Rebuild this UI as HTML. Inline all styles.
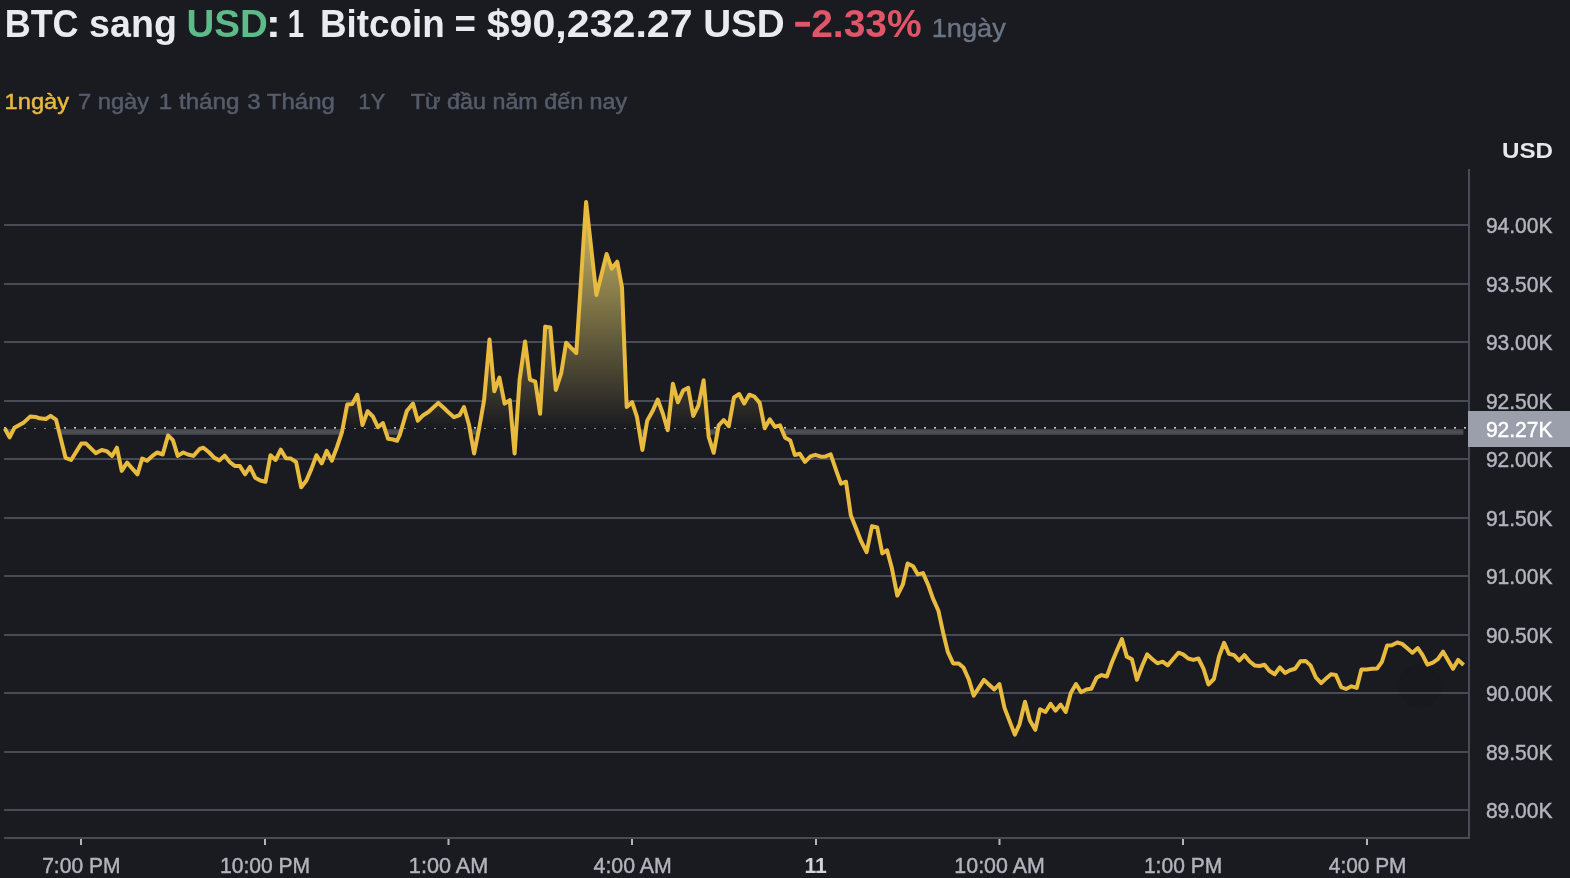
<!DOCTYPE html>
<html><head><meta charset="utf-8"><title>BTC sang USD</title>
<style>
html,body{margin:0;padding:0;background:#1a1b20;}
body{width:1570px;height:878px;overflow:hidden;font-family:"Liberation Sans",sans-serif;}
svg{display:block;position:absolute;left:0;top:0;}
text{font-family:"Liberation Sans",sans-serif;will-change:transform;paint-order:stroke;}
.t{font-size:38.3px;font-weight:bold;}
.w{fill:#eaebef;} .g{fill:#5dbb89;} .r{fill:#e05568;}
.s{font-size:26px;fill:#6c7585;stroke:#6c7585;stroke-width:0.4px;}
.tab{font-size:22px;fill:#555c6b;stroke:#555c6b;stroke-width:0.5px;}
.y{fill:#e8b93e;stroke:#e8b93e;}
.ax{font-size:22.2px;fill:#b2b5be;stroke:#b2b5be;stroke-width:0.45px;}
.b{font-weight:bold;fill:#d1d4dc;stroke:none;}
.usd{font-size:21.3px;font-weight:bold;fill:#e6e7eb;}
.cur{font-size:22.2px;fill:#ffffff;stroke:#ffffff;stroke-width:0.45px;}
</style></head>
<body>
<svg width="1570" height="878" viewBox="0 0 1570 878">
<defs>
<linearGradient id="gb" gradientUnits="userSpaceOnUse" x1="0" y1="429" x2="0" y2="435">
<stop offset="0" stop-color="#3c3d42"/><stop offset="0.45" stop-color="#4f5056"/><stop offset="0.6" stop-color="#4f5056"/><stop offset="1" stop-color="#3a3b40"/>
</linearGradient>
<linearGradient id="gf" gradientUnits="userSpaceOnUse" x1="0" y1="170" x2="0" y2="428.0">
<stop offset="0" stop-color="#ecd670"/>
<stop offset="1" stop-color="#1a1b20"/>
</linearGradient>
<clipPath id="cb"><path d="M4.8,428.5 L9.6,437.4 L14.4,427.8 L23.9,422.4 L30.1,416.6 L35.5,416.9 L39.6,418.3 L45.8,419.0 L50.6,415.8 L56.0,419.6 L65.6,457.9 L71.1,460.0 L81.3,443.6 L86.1,443.6 L95.7,453.1 L101.8,450.0 L106.6,451.1 L112.1,455.9 L116.9,447.7 L121.7,470.9 L127.1,462.7 L137.4,474.3 L142.2,458.6 L147.0,460.7 L152.4,455.9 L157.2,452.5 L162.7,454.5 L168.1,435.4 L172.9,440.2 L177.7,455.9 L183.2,452.5 L188.0,454.5 L193.4,455.9 L199.6,449.0 L203.4,447.7 L209.2,452.5 L214.4,457.9 L219.4,460.4 L224.6,455.6 L229.7,462.0 L234.7,465.9 L239.9,466.1 L245.0,474.3 L250.0,466.8 L255.2,477.7 L260.3,480.5 L265.5,481.8 L270.5,455.2 L275.6,460.0 L280.8,449.7 L285.9,458.2 L290.9,458.6 L296.1,462.0 L301.2,487.3 L306.4,480.5 L311.4,468.9 L316.5,455.2 L321.7,463.4 L326.7,450.8 L331.8,460.7 L337.0,447.0 L342.0,432.0 L347.2,404.6 L352.3,403.9 L357.3,394.8 L362.5,425.1 L367.6,411.2 L372.7,416.2 L377.9,427.2 L382.9,423.1 L388.1,438.8 L393.2,439.5 L397.0,440.8 L400.0,434.3 L406.8,411.1 L413.0,403.6 L417.8,420.7 L423.2,415.2 L428.7,411.8 L438.3,402.9 L443.7,407.7 L449.2,413.1 L454.0,417.2 L459.5,415.2 L464.0,407.0 L469.0,424.8 L474.1,453.5 L479.3,427.5 L484.1,400.2 L489.5,339.5 L494.3,391.3 L499.4,377.6 L504.6,403.6 L509.8,400.2 L514.6,453.5 L519.6,379.6 L525.1,341.4 L529.9,379.6 L535.3,381.7 L540.1,413.8 L545.2,326.6 L550.3,327.5 L555.8,389.9 L561.3,372.8 L566.1,342.7 L571.2,348.0 L576.3,353.0 L586.1,202.0 L596.4,295.0 L606.6,254.0 L611.8,268.6 L617.2,261.7 L622.0,287.4 L626.7,407.0 L632.1,402.2 L636.9,416.6 L642.4,450.0 L647.2,420.7 L652.6,411.1 L657.7,399.5 L662.9,413.8 L667.7,430.2 L672.9,383.7 L677.9,402.2 L683.1,390.6 L688.2,387.8 L693.2,415.9 L698.4,405.6 L703.6,380.3 L708.7,437.0 L713.7,452.8 L718.7,425.4 L723.7,420.0 L728.8,426.1 L734.0,397.4 L739.2,394.0 L744.2,403.6 L749.3,394.7 L754.5,396.7 L759.7,402.9 L764.7,428.2 L769.8,419.3 L775.0,426.8 L780.0,425.4 L785.2,437.7 L790.3,440.5 L794.8,455.0 L799.8,453.7 L805.0,461.9 L810.5,456.4 L815.3,454.8 L820.8,456.7 L825.5,456.4 L830.7,454.4 L835.8,469.4 L840.9,483.7 L846.0,481.7 L850.8,515.2 L856.3,528.9 L861.1,541.2 L866.6,552.1 L872.0,526.1 L877.2,527.5 L882.3,553.4 L887.1,550.3 L891.9,568.3 L897.3,595.6 L902.8,584.7 L907.6,563.5 L913.1,566.2 L917.8,574.4 L923.0,573.1 L928.1,584.7 L932.9,598.4 L938.4,610.7 L943.1,632.5 L947.8,651.9 L953.2,663.5 L958.7,663.5 L963.5,667.6 L968.7,679.2 L973.7,695.6 L984.0,679.9 L989.1,684.7 L994.3,689.5 L999.4,684.0 L1004.5,707.9 L1014.8,734.6 L1019.5,724.3 L1025.0,701.8 L1029.8,720.2 L1035.3,729.8 L1040.0,709.3 L1045.5,712.0 L1050.6,703.8 L1055.5,710.7 L1060.6,704.5 L1065.7,712.0 L1070.8,692.9 L1076.0,684.0 L1081.1,692.2 L1086.3,689.5 L1091.3,688.8 L1096.5,677.8 L1101.6,675.1 L1106.8,676.5 L1111.8,662.8 L1116.7,651.1 L1121.9,639.1 L1126.8,656.6 L1131.9,659.2 L1136.9,679.7 L1142.1,666.0 L1147.2,654.4 L1152.4,659.2 L1157.4,663.3 L1162.6,661.7 L1167.7,665.4 L1172.9,659.2 L1178.4,652.7 L1183.1,654.4 L1188.2,658.5 L1193.4,659.9 L1198.4,658.5 L1203.6,668.8 L1208.4,684.5 L1213.9,679.0 L1219.0,656.5 L1224.1,642.8 L1228.9,653.7 L1234.1,655.1 L1239.2,660.6 L1244.4,655.1 L1249.4,661.3 L1254.6,665.4 L1259.7,666.0 L1264.5,664.7 L1269.3,670.8 L1274.7,674.3 L1279.8,667.4 L1285.0,672.9 L1290.0,670.2 L1295.0,668.8 L1300.3,661.3 L1305.6,660.9 L1310.5,665.4 L1316.0,677.7 L1321.2,683.1 L1326.2,678.4 L1331.0,674.3 L1335.8,674.9 L1341.3,687.2 L1346.0,689.0 L1351.5,686.3 L1356.7,687.9 L1361.4,669.5 L1366.6,669.5 L1372.0,668.8 L1377.1,668.5 L1381.9,661.9 L1387.1,645.5 L1391.8,645.3 L1397.3,642.5 L1402.1,643.9 L1407.3,648.3 L1412.4,652.7 L1417.8,648.0 L1422.6,655.1 L1427.4,664.7 L1432.9,662.6 L1437.9,659.2 L1443.1,651.7 L1447.9,659.9 L1453.0,668.8 L1458.1,659.9 L1463.6,665.0 L1463.6,160 L4.8,160 Z"/></clipPath>
<clipPath id="ct"><rect x="0" y="170" width="1468" height="258.0"/></clipPath>
</defs>
<rect x="0" y="0" width="1570" height="878" fill="#1a1b20"/>
<text transform="translate(4.66,37) scale(0.9394,1)" class="t w" >BTC</text><text transform="translate(89.08,37) scale(0.9825,1)" class="t w" >sang</text><text transform="translate(186.49,37) scale(1.0067,1)" class="t g" >USD</text><text transform="translate(265.66,37) scale(1.1936,1)" class="t w" >:</text><text transform="translate(287.84,37) scale(0.7666,1)" class="t w" >1</text><text transform="translate(320.01,37) scale(0.9620,1)" class="t w" >Bitcoin</text><text transform="translate(454.53,37) scale(0.9565,1)" class="t w" >=</text><text transform="translate(486.68,37) scale(1.0745,1)" class="t w" >$90,232.27</text><text transform="translate(703.18,37) scale(1.0093,1)" class="t w" >USD</text><rect x="795.2" y="21.8" width="14.8" height="4.9" fill="#e05568"/><text transform="translate(811.13,37) scale(1.0190,1)" class="t r" >2.33%</text><text transform="translate(931.66,37) scale(1.0464,1)" class="s" >1ngày</text>
<text transform="translate(4.58,108.6) scale(1.0755,1)" class="tab y" >1ngày</text><text transform="translate(78.07,108.6) scale(1.0752,1)" class="tab" >7 ngày</text><text transform="translate(158.73,108.6) scale(1.1012,1)" class="tab" >1 tháng</text><text transform="translate(247.29,108.6) scale(1.0899,1)" class="tab" >3 Tháng</text><text transform="translate(358.62,108.6) scale(0.9899,1)" class="tab" >1Y</text><text transform="translate(410.78,108.6) scale(1.0597,1)" class="tab" >Từ đầu năm đến nay</text>
<text transform="translate(1501.95,158.3) scale(1.1352,1)" class="usd" >USD</text>
<!-- grid -->
<rect x="4" y="224" width="1464" height="2" fill="#474b56"/><rect x="4" y="283" width="1464" height="2" fill="#474b56"/><rect x="4" y="341" width="1464" height="2" fill="#474b56"/><rect x="4" y="400" width="1464" height="2" fill="#474b56"/><rect x="4" y="458" width="1464" height="2" fill="#474b56"/><rect x="4" y="517" width="1464" height="2" fill="#474b56"/><rect x="4" y="575" width="1464" height="2" fill="#474b56"/><rect x="4" y="634" width="1464" height="2" fill="#474b56"/><rect x="4" y="692" width="1464" height="2" fill="#474b56"/><rect x="4" y="751" width="1464" height="2" fill="#474b56"/><rect x="4" y="809" width="1464" height="2" fill="#474b56"/>
<rect x="1468" y="169" width="2" height="670" fill="#474b56"/>
<rect x="4" y="837" width="1466" height="2" fill="#474b56"/>
<circle cx="1420" cy="685.5" r="22" fill="#000" fill-opacity="0.06"/>
<!-- dotted baseline -->
<rect x="4" y="427" width="2" height="1" fill="#c3c6cf"/><rect x="4" y="428" width="2" height="1" fill="#868992"/><rect x="14" y="427" width="2" height="1" fill="#c3c6cf"/><rect x="14" y="428" width="2" height="1" fill="#868992"/><rect x="24" y="427" width="2" height="1" fill="#c3c6cf"/><rect x="24" y="428" width="2" height="1" fill="#868992"/><rect x="34" y="427" width="2" height="1" fill="#c3c6cf"/><rect x="34" y="428" width="2" height="1" fill="#868992"/><rect x="44" y="427" width="2" height="1" fill="#c3c6cf"/><rect x="44" y="428" width="2" height="1" fill="#868992"/><rect x="54" y="427" width="2" height="1" fill="#c3c6cf"/><rect x="54" y="428" width="2" height="1" fill="#868992"/><rect x="64" y="427" width="2" height="1" fill="#c3c6cf"/><rect x="64" y="428" width="2" height="1" fill="#868992"/><rect x="74" y="427" width="2" height="1" fill="#c3c6cf"/><rect x="74" y="428" width="2" height="1" fill="#868992"/><rect x="84" y="427" width="2" height="1" fill="#c3c6cf"/><rect x="84" y="428" width="2" height="1" fill="#868992"/><rect x="94" y="427" width="2" height="1" fill="#c3c6cf"/><rect x="94" y="428" width="2" height="1" fill="#868992"/><rect x="104" y="427" width="2" height="1" fill="#c3c6cf"/><rect x="104" y="428" width="2" height="1" fill="#868992"/><rect x="114" y="427" width="2" height="1" fill="#c3c6cf"/><rect x="114" y="428" width="2" height="1" fill="#868992"/><rect x="124" y="427" width="2" height="1" fill="#c3c6cf"/><rect x="124" y="428" width="2" height="1" fill="#868992"/><rect x="134" y="427" width="2" height="1" fill="#c3c6cf"/><rect x="134" y="428" width="2" height="1" fill="#868992"/><rect x="144" y="427" width="2" height="1" fill="#c3c6cf"/><rect x="144" y="428" width="2" height="1" fill="#868992"/><rect x="154" y="427" width="2" height="1" fill="#c3c6cf"/><rect x="154" y="428" width="2" height="1" fill="#868992"/><rect x="164" y="427" width="2" height="1" fill="#c3c6cf"/><rect x="164" y="428" width="2" height="1" fill="#868992"/><rect x="174" y="427" width="2" height="1" fill="#c3c6cf"/><rect x="174" y="428" width="2" height="1" fill="#868992"/><rect x="184" y="427" width="2" height="1" fill="#c3c6cf"/><rect x="184" y="428" width="2" height="1" fill="#868992"/><rect x="194" y="427" width="2" height="1" fill="#c3c6cf"/><rect x="194" y="428" width="2" height="1" fill="#868992"/><rect x="204" y="427" width="2" height="1" fill="#c3c6cf"/><rect x="204" y="428" width="2" height="1" fill="#868992"/><rect x="214" y="427" width="2" height="1" fill="#c3c6cf"/><rect x="214" y="428" width="2" height="1" fill="#868992"/><rect x="224" y="427" width="2" height="1" fill="#c3c6cf"/><rect x="224" y="428" width="2" height="1" fill="#868992"/><rect x="234" y="427" width="2" height="1" fill="#c3c6cf"/><rect x="234" y="428" width="2" height="1" fill="#868992"/><rect x="244" y="427" width="2" height="1" fill="#c3c6cf"/><rect x="244" y="428" width="2" height="1" fill="#868992"/><rect x="254" y="427" width="2" height="1" fill="#c3c6cf"/><rect x="254" y="428" width="2" height="1" fill="#868992"/><rect x="264" y="427" width="2" height="1" fill="#c3c6cf"/><rect x="264" y="428" width="2" height="1" fill="#868992"/><rect x="274" y="427" width="2" height="1" fill="#c3c6cf"/><rect x="274" y="428" width="2" height="1" fill="#868992"/><rect x="284" y="427" width="2" height="1" fill="#c3c6cf"/><rect x="284" y="428" width="2" height="1" fill="#868992"/><rect x="294" y="427" width="2" height="1" fill="#c3c6cf"/><rect x="294" y="428" width="2" height="1" fill="#868992"/><rect x="304" y="427" width="2" height="1" fill="#c3c6cf"/><rect x="304" y="428" width="2" height="1" fill="#868992"/><rect x="314" y="427" width="2" height="1" fill="#c3c6cf"/><rect x="314" y="428" width="2" height="1" fill="#868992"/><rect x="324" y="427" width="2" height="1" fill="#c3c6cf"/><rect x="324" y="428" width="2" height="1" fill="#868992"/><rect x="334" y="427" width="2" height="1" fill="#c3c6cf"/><rect x="334" y="428" width="2" height="1" fill="#868992"/><rect x="344" y="427" width="2" height="1" fill="#c3c6cf"/><rect x="344" y="428" width="2" height="1" fill="#868992"/><rect x="354" y="427" width="2" height="1" fill="#c3c6cf"/><rect x="354" y="428" width="2" height="1" fill="#868992"/><rect x="364" y="427" width="2" height="1" fill="#c3c6cf"/><rect x="364" y="428" width="2" height="1" fill="#868992"/><rect x="374" y="427" width="2" height="1" fill="#c3c6cf"/><rect x="374" y="428" width="2" height="1" fill="#868992"/><rect x="384" y="427" width="2" height="1" fill="#c3c6cf"/><rect x="384" y="428" width="2" height="1" fill="#868992"/><rect x="394" y="427" width="2" height="1" fill="#c3c6cf"/><rect x="394" y="428" width="2" height="1" fill="#868992"/><rect x="404" y="427" width="2" height="1" fill="#c3c6cf"/><rect x="404" y="428" width="2" height="1" fill="#868992"/><rect x="414" y="427" width="2" height="1" fill="#c3c6cf"/><rect x="414" y="428" width="2" height="1" fill="#868992"/><rect x="424" y="427" width="2" height="1" fill="#c3c6cf"/><rect x="424" y="428" width="2" height="1" fill="#868992"/><rect x="434" y="427" width="2" height="1" fill="#c3c6cf"/><rect x="434" y="428" width="2" height="1" fill="#868992"/><rect x="444" y="427" width="2" height="1" fill="#c3c6cf"/><rect x="444" y="428" width="2" height="1" fill="#868992"/><rect x="454" y="427" width="2" height="1" fill="#c3c6cf"/><rect x="454" y="428" width="2" height="1" fill="#868992"/><rect x="464" y="427" width="2" height="1" fill="#c3c6cf"/><rect x="464" y="428" width="2" height="1" fill="#868992"/><rect x="474" y="427" width="2" height="1" fill="#c3c6cf"/><rect x="474" y="428" width="2" height="1" fill="#868992"/><rect x="484" y="427" width="2" height="1" fill="#c3c6cf"/><rect x="484" y="428" width="2" height="1" fill="#868992"/><rect x="494" y="427" width="2" height="1" fill="#c3c6cf"/><rect x="494" y="428" width="2" height="1" fill="#868992"/><rect x="504" y="427" width="2" height="1" fill="#c3c6cf"/><rect x="504" y="428" width="2" height="1" fill="#868992"/><rect x="514" y="427" width="2" height="1" fill="#c3c6cf"/><rect x="514" y="428" width="2" height="1" fill="#868992"/><rect x="524" y="427" width="2" height="1" fill="#c3c6cf"/><rect x="524" y="428" width="2" height="1" fill="#868992"/><rect x="534" y="427" width="2" height="1" fill="#c3c6cf"/><rect x="534" y="428" width="2" height="1" fill="#868992"/><rect x="544" y="427" width="2" height="1" fill="#c3c6cf"/><rect x="544" y="428" width="2" height="1" fill="#868992"/><rect x="554" y="427" width="2" height="1" fill="#c3c6cf"/><rect x="554" y="428" width="2" height="1" fill="#868992"/><rect x="564" y="427" width="2" height="1" fill="#c3c6cf"/><rect x="564" y="428" width="2" height="1" fill="#868992"/><rect x="574" y="427" width="2" height="1" fill="#c3c6cf"/><rect x="574" y="428" width="2" height="1" fill="#868992"/><rect x="584" y="427" width="2" height="1" fill="#c3c6cf"/><rect x="584" y="428" width="2" height="1" fill="#868992"/><rect x="594" y="427" width="2" height="1" fill="#c3c6cf"/><rect x="594" y="428" width="2" height="1" fill="#868992"/><rect x="604" y="427" width="2" height="1" fill="#c3c6cf"/><rect x="604" y="428" width="2" height="1" fill="#868992"/><rect x="614" y="427" width="2" height="1" fill="#c3c6cf"/><rect x="614" y="428" width="2" height="1" fill="#868992"/><rect x="624" y="427" width="2" height="1" fill="#c3c6cf"/><rect x="624" y="428" width="2" height="1" fill="#868992"/><rect x="634" y="427" width="2" height="1" fill="#c3c6cf"/><rect x="634" y="428" width="2" height="1" fill="#868992"/><rect x="644" y="427" width="2" height="1" fill="#c3c6cf"/><rect x="644" y="428" width="2" height="1" fill="#868992"/><rect x="654" y="427" width="2" height="1" fill="#c3c6cf"/><rect x="654" y="428" width="2" height="1" fill="#868992"/><rect x="664" y="427" width="2" height="1" fill="#c3c6cf"/><rect x="664" y="428" width="2" height="1" fill="#868992"/><rect x="674" y="427" width="2" height="1" fill="#c3c6cf"/><rect x="674" y="428" width="2" height="1" fill="#868992"/><rect x="684" y="427" width="2" height="1" fill="#c3c6cf"/><rect x="684" y="428" width="2" height="1" fill="#868992"/><rect x="694" y="427" width="2" height="1" fill="#c3c6cf"/><rect x="694" y="428" width="2" height="1" fill="#868992"/><rect x="704" y="427" width="2" height="1" fill="#c3c6cf"/><rect x="704" y="428" width="2" height="1" fill="#868992"/><rect x="714" y="427" width="2" height="1" fill="#c3c6cf"/><rect x="714" y="428" width="2" height="1" fill="#868992"/><rect x="724" y="427" width="2" height="1" fill="#c3c6cf"/><rect x="724" y="428" width="2" height="1" fill="#868992"/><rect x="734" y="427" width="2" height="1" fill="#c3c6cf"/><rect x="734" y="428" width="2" height="1" fill="#868992"/><rect x="744" y="427" width="2" height="1" fill="#c3c6cf"/><rect x="744" y="428" width="2" height="1" fill="#868992"/><rect x="754" y="427" width="2" height="1" fill="#c3c6cf"/><rect x="754" y="428" width="2" height="1" fill="#868992"/><rect x="764" y="427" width="2" height="1" fill="#c3c6cf"/><rect x="764" y="428" width="2" height="1" fill="#868992"/><rect x="774" y="427" width="2" height="1" fill="#c3c6cf"/><rect x="774" y="428" width="2" height="1" fill="#868992"/><rect x="784" y="427" width="2" height="1" fill="#c3c6cf"/><rect x="784" y="428" width="2" height="1" fill="#868992"/><rect x="794" y="427" width="2" height="1" fill="#c3c6cf"/><rect x="794" y="428" width="2" height="1" fill="#868992"/><rect x="804" y="427" width="2" height="1" fill="#c3c6cf"/><rect x="804" y="428" width="2" height="1" fill="#868992"/><rect x="814" y="427" width="2" height="1" fill="#c3c6cf"/><rect x="814" y="428" width="2" height="1" fill="#868992"/><rect x="824" y="427" width="2" height="1" fill="#c3c6cf"/><rect x="824" y="428" width="2" height="1" fill="#868992"/><rect x="834" y="427" width="2" height="1" fill="#c3c6cf"/><rect x="834" y="428" width="2" height="1" fill="#868992"/><rect x="844" y="427" width="2" height="1" fill="#c3c6cf"/><rect x="844" y="428" width="2" height="1" fill="#868992"/><rect x="854" y="427" width="2" height="1" fill="#c3c6cf"/><rect x="854" y="428" width="2" height="1" fill="#868992"/><rect x="864" y="427" width="2" height="1" fill="#c3c6cf"/><rect x="864" y="428" width="2" height="1" fill="#868992"/><rect x="874" y="427" width="2" height="1" fill="#c3c6cf"/><rect x="874" y="428" width="2" height="1" fill="#868992"/><rect x="884" y="427" width="2" height="1" fill="#c3c6cf"/><rect x="884" y="428" width="2" height="1" fill="#868992"/><rect x="894" y="427" width="2" height="1" fill="#c3c6cf"/><rect x="894" y="428" width="2" height="1" fill="#868992"/><rect x="904" y="427" width="2" height="1" fill="#c3c6cf"/><rect x="904" y="428" width="2" height="1" fill="#868992"/><rect x="914" y="427" width="2" height="1" fill="#c3c6cf"/><rect x="914" y="428" width="2" height="1" fill="#868992"/><rect x="924" y="427" width="2" height="1" fill="#c3c6cf"/><rect x="924" y="428" width="2" height="1" fill="#868992"/><rect x="934" y="427" width="2" height="1" fill="#c3c6cf"/><rect x="934" y="428" width="2" height="1" fill="#868992"/><rect x="944" y="427" width="2" height="1" fill="#c3c6cf"/><rect x="944" y="428" width="2" height="1" fill="#868992"/><rect x="954" y="427" width="2" height="1" fill="#c3c6cf"/><rect x="954" y="428" width="2" height="1" fill="#868992"/><rect x="964" y="427" width="2" height="1" fill="#c3c6cf"/><rect x="964" y="428" width="2" height="1" fill="#868992"/><rect x="974" y="427" width="2" height="1" fill="#c3c6cf"/><rect x="974" y="428" width="2" height="1" fill="#868992"/><rect x="984" y="427" width="2" height="1" fill="#c3c6cf"/><rect x="984" y="428" width="2" height="1" fill="#868992"/><rect x="994" y="427" width="2" height="1" fill="#c3c6cf"/><rect x="994" y="428" width="2" height="1" fill="#868992"/><rect x="1004" y="427" width="2" height="1" fill="#c3c6cf"/><rect x="1004" y="428" width="2" height="1" fill="#868992"/><rect x="1014" y="427" width="2" height="1" fill="#c3c6cf"/><rect x="1014" y="428" width="2" height="1" fill="#868992"/><rect x="1024" y="427" width="2" height="1" fill="#c3c6cf"/><rect x="1024" y="428" width="2" height="1" fill="#868992"/><rect x="1034" y="427" width="2" height="1" fill="#c3c6cf"/><rect x="1034" y="428" width="2" height="1" fill="#868992"/><rect x="1044" y="427" width="2" height="1" fill="#c3c6cf"/><rect x="1044" y="428" width="2" height="1" fill="#868992"/><rect x="1054" y="427" width="2" height="1" fill="#c3c6cf"/><rect x="1054" y="428" width="2" height="1" fill="#868992"/><rect x="1064" y="427" width="2" height="1" fill="#c3c6cf"/><rect x="1064" y="428" width="2" height="1" fill="#868992"/><rect x="1074" y="427" width="2" height="1" fill="#c3c6cf"/><rect x="1074" y="428" width="2" height="1" fill="#868992"/><rect x="1084" y="427" width="2" height="1" fill="#c3c6cf"/><rect x="1084" y="428" width="2" height="1" fill="#868992"/><rect x="1094" y="427" width="2" height="1" fill="#c3c6cf"/><rect x="1094" y="428" width="2" height="1" fill="#868992"/><rect x="1104" y="427" width="2" height="1" fill="#c3c6cf"/><rect x="1104" y="428" width="2" height="1" fill="#868992"/><rect x="1114" y="427" width="2" height="1" fill="#c3c6cf"/><rect x="1114" y="428" width="2" height="1" fill="#868992"/><rect x="1124" y="427" width="2" height="1" fill="#c3c6cf"/><rect x="1124" y="428" width="2" height="1" fill="#868992"/><rect x="1134" y="427" width="2" height="1" fill="#c3c6cf"/><rect x="1134" y="428" width="2" height="1" fill="#868992"/><rect x="1144" y="427" width="2" height="1" fill="#c3c6cf"/><rect x="1144" y="428" width="2" height="1" fill="#868992"/><rect x="1154" y="427" width="2" height="1" fill="#c3c6cf"/><rect x="1154" y="428" width="2" height="1" fill="#868992"/><rect x="1164" y="427" width="2" height="1" fill="#c3c6cf"/><rect x="1164" y="428" width="2" height="1" fill="#868992"/><rect x="1174" y="427" width="2" height="1" fill="#c3c6cf"/><rect x="1174" y="428" width="2" height="1" fill="#868992"/><rect x="1184" y="427" width="2" height="1" fill="#c3c6cf"/><rect x="1184" y="428" width="2" height="1" fill="#868992"/><rect x="1194" y="427" width="2" height="1" fill="#c3c6cf"/><rect x="1194" y="428" width="2" height="1" fill="#868992"/><rect x="1204" y="427" width="2" height="1" fill="#c3c6cf"/><rect x="1204" y="428" width="2" height="1" fill="#868992"/><rect x="1214" y="427" width="2" height="1" fill="#c3c6cf"/><rect x="1214" y="428" width="2" height="1" fill="#868992"/><rect x="1224" y="427" width="2" height="1" fill="#c3c6cf"/><rect x="1224" y="428" width="2" height="1" fill="#868992"/><rect x="1234" y="427" width="2" height="1" fill="#c3c6cf"/><rect x="1234" y="428" width="2" height="1" fill="#868992"/><rect x="1244" y="427" width="2" height="1" fill="#c3c6cf"/><rect x="1244" y="428" width="2" height="1" fill="#868992"/><rect x="1254" y="427" width="2" height="1" fill="#c3c6cf"/><rect x="1254" y="428" width="2" height="1" fill="#868992"/><rect x="1264" y="427" width="2" height="1" fill="#c3c6cf"/><rect x="1264" y="428" width="2" height="1" fill="#868992"/><rect x="1274" y="427" width="2" height="1" fill="#c3c6cf"/><rect x="1274" y="428" width="2" height="1" fill="#868992"/><rect x="1284" y="427" width="2" height="1" fill="#c3c6cf"/><rect x="1284" y="428" width="2" height="1" fill="#868992"/><rect x="1294" y="427" width="2" height="1" fill="#c3c6cf"/><rect x="1294" y="428" width="2" height="1" fill="#868992"/><rect x="1304" y="427" width="2" height="1" fill="#c3c6cf"/><rect x="1304" y="428" width="2" height="1" fill="#868992"/><rect x="1314" y="427" width="2" height="1" fill="#c3c6cf"/><rect x="1314" y="428" width="2" height="1" fill="#868992"/><rect x="1324" y="427" width="2" height="1" fill="#c3c6cf"/><rect x="1324" y="428" width="2" height="1" fill="#868992"/><rect x="1334" y="427" width="2" height="1" fill="#c3c6cf"/><rect x="1334" y="428" width="2" height="1" fill="#868992"/><rect x="1344" y="427" width="2" height="1" fill="#c3c6cf"/><rect x="1344" y="428" width="2" height="1" fill="#868992"/><rect x="1354" y="427" width="2" height="1" fill="#c3c6cf"/><rect x="1354" y="428" width="2" height="1" fill="#868992"/><rect x="1364" y="427" width="2" height="1" fill="#c3c6cf"/><rect x="1364" y="428" width="2" height="1" fill="#868992"/><rect x="1374" y="427" width="2" height="1" fill="#c3c6cf"/><rect x="1374" y="428" width="2" height="1" fill="#868992"/><rect x="1384" y="427" width="2" height="1" fill="#c3c6cf"/><rect x="1384" y="428" width="2" height="1" fill="#868992"/><rect x="1394" y="427" width="2" height="1" fill="#c3c6cf"/><rect x="1394" y="428" width="2" height="1" fill="#868992"/><rect x="1404" y="427" width="2" height="1" fill="#c3c6cf"/><rect x="1404" y="428" width="2" height="1" fill="#868992"/><rect x="1414" y="427" width="2" height="1" fill="#c3c6cf"/><rect x="1414" y="428" width="2" height="1" fill="#868992"/><rect x="1424" y="427" width="2" height="1" fill="#c3c6cf"/><rect x="1424" y="428" width="2" height="1" fill="#868992"/><rect x="1434" y="427" width="2" height="1" fill="#c3c6cf"/><rect x="1434" y="428" width="2" height="1" fill="#868992"/><rect x="1444" y="427" width="2" height="1" fill="#c3c6cf"/><rect x="1444" y="428" width="2" height="1" fill="#868992"/><rect x="1454" y="427" width="2" height="1" fill="#c3c6cf"/><rect x="1454" y="428" width="2" height="1" fill="#868992"/><rect x="1464" y="427" width="2" height="1" fill="#c3c6cf"/><rect x="1464" y="428" width="2" height="1" fill="#868992"/>
<!-- area fill above baseline -->
<g clip-path="url(#ct)"><path d="M4.8,428.5 L9.6,437.4 L14.4,427.8 L23.9,422.4 L30.1,416.6 L35.5,416.9 L39.6,418.3 L45.8,419.0 L50.6,415.8 L56.0,419.6 L65.6,457.9 L71.1,460.0 L81.3,443.6 L86.1,443.6 L95.7,453.1 L101.8,450.0 L106.6,451.1 L112.1,455.9 L116.9,447.7 L121.7,470.9 L127.1,462.7 L137.4,474.3 L142.2,458.6 L147.0,460.7 L152.4,455.9 L157.2,452.5 L162.7,454.5 L168.1,435.4 L172.9,440.2 L177.7,455.9 L183.2,452.5 L188.0,454.5 L193.4,455.9 L199.6,449.0 L203.4,447.7 L209.2,452.5 L214.4,457.9 L219.4,460.4 L224.6,455.6 L229.7,462.0 L234.7,465.9 L239.9,466.1 L245.0,474.3 L250.0,466.8 L255.2,477.7 L260.3,480.5 L265.5,481.8 L270.5,455.2 L275.6,460.0 L280.8,449.7 L285.9,458.2 L290.9,458.6 L296.1,462.0 L301.2,487.3 L306.4,480.5 L311.4,468.9 L316.5,455.2 L321.7,463.4 L326.7,450.8 L331.8,460.7 L337.0,447.0 L342.0,432.0 L347.2,404.6 L352.3,403.9 L357.3,394.8 L362.5,425.1 L367.6,411.2 L372.7,416.2 L377.9,427.2 L382.9,423.1 L388.1,438.8 L393.2,439.5 L397.0,440.8 L400.0,434.3 L406.8,411.1 L413.0,403.6 L417.8,420.7 L423.2,415.2 L428.7,411.8 L438.3,402.9 L443.7,407.7 L449.2,413.1 L454.0,417.2 L459.5,415.2 L464.0,407.0 L469.0,424.8 L474.1,453.5 L479.3,427.5 L484.1,400.2 L489.5,339.5 L494.3,391.3 L499.4,377.6 L504.6,403.6 L509.8,400.2 L514.6,453.5 L519.6,379.6 L525.1,341.4 L529.9,379.6 L535.3,381.7 L540.1,413.8 L545.2,326.6 L550.3,327.5 L555.8,389.9 L561.3,372.8 L566.1,342.7 L571.2,348.0 L576.3,353.0 L586.1,202.0 L596.4,295.0 L606.6,254.0 L611.8,268.6 L617.2,261.7 L622.0,287.4 L626.7,407.0 L632.1,402.2 L636.9,416.6 L642.4,450.0 L647.2,420.7 L652.6,411.1 L657.7,399.5 L662.9,413.8 L667.7,430.2 L672.9,383.7 L677.9,402.2 L683.1,390.6 L688.2,387.8 L693.2,415.9 L698.4,405.6 L703.6,380.3 L708.7,437.0 L713.7,452.8 L718.7,425.4 L723.7,420.0 L728.8,426.1 L734.0,397.4 L739.2,394.0 L744.2,403.6 L749.3,394.7 L754.5,396.7 L759.7,402.9 L764.7,428.2 L769.8,419.3 L775.0,426.8 L780.0,425.4 L785.2,437.7 L790.3,440.5 L794.8,455.0 L799.8,453.7 L805.0,461.9 L810.5,456.4 L815.3,454.8 L820.8,456.7 L825.5,456.4 L830.7,454.4 L835.8,469.4 L840.9,483.7 L846.0,481.7 L850.8,515.2 L856.3,528.9 L861.1,541.2 L866.6,552.1 L872.0,526.1 L877.2,527.5 L882.3,553.4 L887.1,550.3 L891.9,568.3 L897.3,595.6 L902.8,584.7 L907.6,563.5 L913.1,566.2 L917.8,574.4 L923.0,573.1 L928.1,584.7 L932.9,598.4 L938.4,610.7 L943.1,632.5 L947.8,651.9 L953.2,663.5 L958.7,663.5 L963.5,667.6 L968.7,679.2 L973.7,695.6 L984.0,679.9 L989.1,684.7 L994.3,689.5 L999.4,684.0 L1004.5,707.9 L1014.8,734.6 L1019.5,724.3 L1025.0,701.8 L1029.8,720.2 L1035.3,729.8 L1040.0,709.3 L1045.5,712.0 L1050.6,703.8 L1055.5,710.7 L1060.6,704.5 L1065.7,712.0 L1070.8,692.9 L1076.0,684.0 L1081.1,692.2 L1086.3,689.5 L1091.3,688.8 L1096.5,677.8 L1101.6,675.1 L1106.8,676.5 L1111.8,662.8 L1116.7,651.1 L1121.9,639.1 L1126.8,656.6 L1131.9,659.2 L1136.9,679.7 L1142.1,666.0 L1147.2,654.4 L1152.4,659.2 L1157.4,663.3 L1162.6,661.7 L1167.7,665.4 L1172.9,659.2 L1178.4,652.7 L1183.1,654.4 L1188.2,658.5 L1193.4,659.9 L1198.4,658.5 L1203.6,668.8 L1208.4,684.5 L1213.9,679.0 L1219.0,656.5 L1224.1,642.8 L1228.9,653.7 L1234.1,655.1 L1239.2,660.6 L1244.4,655.1 L1249.4,661.3 L1254.6,665.4 L1259.7,666.0 L1264.5,664.7 L1269.3,670.8 L1274.7,674.3 L1279.8,667.4 L1285.0,672.9 L1290.0,670.2 L1295.0,668.8 L1300.3,661.3 L1305.6,660.9 L1310.5,665.4 L1316.0,677.7 L1321.2,683.1 L1326.2,678.4 L1331.0,674.3 L1335.8,674.9 L1341.3,687.2 L1346.0,689.0 L1351.5,686.3 L1356.7,687.9 L1361.4,669.5 L1366.6,669.5 L1372.0,668.8 L1377.1,668.5 L1381.9,661.9 L1387.1,645.5 L1391.8,645.3 L1397.3,642.5 L1402.1,643.9 L1407.3,648.3 L1412.4,652.7 L1417.8,648.0 L1422.6,655.1 L1427.4,664.7 L1432.9,662.6 L1437.9,659.2 L1443.1,651.7 L1447.9,659.9 L1453.0,668.8 L1458.1,659.9 L1463.6,665.0 L1463.6,428.0 L4.8,428.0 Z" fill="url(#gf)"/></g>
<!-- gray band below baseline -->
<g clip-path="url(#cb)"><rect x="4.8" y="429" width="1458.8" height="6" fill="url(#gb)"/></g>
<!-- price line -->
<path d="M4.8,428.5 L9.6,437.4 L14.4,427.8 L23.9,422.4 L30.1,416.6 L35.5,416.9 L39.6,418.3 L45.8,419.0 L50.6,415.8 L56.0,419.6 L65.6,457.9 L71.1,460.0 L81.3,443.6 L86.1,443.6 L95.7,453.1 L101.8,450.0 L106.6,451.1 L112.1,455.9 L116.9,447.7 L121.7,470.9 L127.1,462.7 L137.4,474.3 L142.2,458.6 L147.0,460.7 L152.4,455.9 L157.2,452.5 L162.7,454.5 L168.1,435.4 L172.9,440.2 L177.7,455.9 L183.2,452.5 L188.0,454.5 L193.4,455.9 L199.6,449.0 L203.4,447.7 L209.2,452.5 L214.4,457.9 L219.4,460.4 L224.6,455.6 L229.7,462.0 L234.7,465.9 L239.9,466.1 L245.0,474.3 L250.0,466.8 L255.2,477.7 L260.3,480.5 L265.5,481.8 L270.5,455.2 L275.6,460.0 L280.8,449.7 L285.9,458.2 L290.9,458.6 L296.1,462.0 L301.2,487.3 L306.4,480.5 L311.4,468.9 L316.5,455.2 L321.7,463.4 L326.7,450.8 L331.8,460.7 L337.0,447.0 L342.0,432.0 L347.2,404.6 L352.3,403.9 L357.3,394.8 L362.5,425.1 L367.6,411.2 L372.7,416.2 L377.9,427.2 L382.9,423.1 L388.1,438.8 L393.2,439.5 L397.0,440.8 L400.0,434.3 L406.8,411.1 L413.0,403.6 L417.8,420.7 L423.2,415.2 L428.7,411.8 L438.3,402.9 L443.7,407.7 L449.2,413.1 L454.0,417.2 L459.5,415.2 L464.0,407.0 L469.0,424.8 L474.1,453.5 L479.3,427.5 L484.1,400.2 L489.5,339.5 L494.3,391.3 L499.4,377.6 L504.6,403.6 L509.8,400.2 L514.6,453.5 L519.6,379.6 L525.1,341.4 L529.9,379.6 L535.3,381.7 L540.1,413.8 L545.2,326.6 L550.3,327.5 L555.8,389.9 L561.3,372.8 L566.1,342.7 L571.2,348.0 L576.3,353.0 L586.1,202.0 L596.4,295.0 L606.6,254.0 L611.8,268.6 L617.2,261.7 L622.0,287.4 L626.7,407.0 L632.1,402.2 L636.9,416.6 L642.4,450.0 L647.2,420.7 L652.6,411.1 L657.7,399.5 L662.9,413.8 L667.7,430.2 L672.9,383.7 L677.9,402.2 L683.1,390.6 L688.2,387.8 L693.2,415.9 L698.4,405.6 L703.6,380.3 L708.7,437.0 L713.7,452.8 L718.7,425.4 L723.7,420.0 L728.8,426.1 L734.0,397.4 L739.2,394.0 L744.2,403.6 L749.3,394.7 L754.5,396.7 L759.7,402.9 L764.7,428.2 L769.8,419.3 L775.0,426.8 L780.0,425.4 L785.2,437.7 L790.3,440.5 L794.8,455.0 L799.8,453.7 L805.0,461.9 L810.5,456.4 L815.3,454.8 L820.8,456.7 L825.5,456.4 L830.7,454.4 L835.8,469.4 L840.9,483.7 L846.0,481.7 L850.8,515.2 L856.3,528.9 L861.1,541.2 L866.6,552.1 L872.0,526.1 L877.2,527.5 L882.3,553.4 L887.1,550.3 L891.9,568.3 L897.3,595.6 L902.8,584.7 L907.6,563.5 L913.1,566.2 L917.8,574.4 L923.0,573.1 L928.1,584.7 L932.9,598.4 L938.4,610.7 L943.1,632.5 L947.8,651.9 L953.2,663.5 L958.7,663.5 L963.5,667.6 L968.7,679.2 L973.7,695.6 L984.0,679.9 L989.1,684.7 L994.3,689.5 L999.4,684.0 L1004.5,707.9 L1014.8,734.6 L1019.5,724.3 L1025.0,701.8 L1029.8,720.2 L1035.3,729.8 L1040.0,709.3 L1045.5,712.0 L1050.6,703.8 L1055.5,710.7 L1060.6,704.5 L1065.7,712.0 L1070.8,692.9 L1076.0,684.0 L1081.1,692.2 L1086.3,689.5 L1091.3,688.8 L1096.5,677.8 L1101.6,675.1 L1106.8,676.5 L1111.8,662.8 L1116.7,651.1 L1121.9,639.1 L1126.8,656.6 L1131.9,659.2 L1136.9,679.7 L1142.1,666.0 L1147.2,654.4 L1152.4,659.2 L1157.4,663.3 L1162.6,661.7 L1167.7,665.4 L1172.9,659.2 L1178.4,652.7 L1183.1,654.4 L1188.2,658.5 L1193.4,659.9 L1198.4,658.5 L1203.6,668.8 L1208.4,684.5 L1213.9,679.0 L1219.0,656.5 L1224.1,642.8 L1228.9,653.7 L1234.1,655.1 L1239.2,660.6 L1244.4,655.1 L1249.4,661.3 L1254.6,665.4 L1259.7,666.0 L1264.5,664.7 L1269.3,670.8 L1274.7,674.3 L1279.8,667.4 L1285.0,672.9 L1290.0,670.2 L1295.0,668.8 L1300.3,661.3 L1305.6,660.9 L1310.5,665.4 L1316.0,677.7 L1321.2,683.1 L1326.2,678.4 L1331.0,674.3 L1335.8,674.9 L1341.3,687.2 L1346.0,689.0 L1351.5,686.3 L1356.7,687.9 L1361.4,669.5 L1366.6,669.5 L1372.0,668.8 L1377.1,668.5 L1381.9,661.9 L1387.1,645.5 L1391.8,645.3 L1397.3,642.5 L1402.1,643.9 L1407.3,648.3 L1412.4,652.7 L1417.8,648.0 L1422.6,655.1 L1427.4,664.7 L1432.9,662.6 L1437.9,659.2 L1443.1,651.7 L1447.9,659.9 L1453.0,668.8 L1458.1,659.9 L1463.6,665.0" fill="none" stroke="#e8ba3e" stroke-width="4" stroke-linejoin="round" stroke-linecap="butt"/>
<!-- y labels -->
<text transform="translate(1485.88,232.7) scale(0.9479,1)" class="ax" >94.00K</text><text transform="translate(1485.88,291.7) scale(0.9479,1)" class="ax" >93.50K</text><text transform="translate(1485.88,349.7) scale(0.9479,1)" class="ax" >93.00K</text><text transform="translate(1485.88,408.7) scale(0.9479,1)" class="ax" >92.50K</text><text transform="translate(1485.88,466.7) scale(0.9479,1)" class="ax" >92.00K</text><text transform="translate(1485.88,525.7) scale(0.9479,1)" class="ax" >91.50K</text><text transform="translate(1485.88,583.7) scale(0.9479,1)" class="ax" >91.00K</text><text transform="translate(1485.88,642.7) scale(0.9479,1)" class="ax" >90.50K</text><text transform="translate(1485.88,700.7) scale(0.9479,1)" class="ax" >90.00K</text><text transform="translate(1485.88,759.7) scale(0.9479,1)" class="ax" >89.50K</text><text transform="translate(1485.88,817.7) scale(0.9479,1)" class="ax" >89.00K</text>
<rect x="1468" y="411" width="102" height="36" fill="#9a9fab"/>
<text transform="translate(1485.88,436.7) scale(0.9479,1)" class="cur" >92.27K</text>
<!-- x axis -->
<rect x="80" y="839" width="2" height="6" fill="#b2b5be"/><rect x="264" y="839" width="2" height="6" fill="#b2b5be"/><rect x="447.5" y="839" width="2" height="6" fill="#b2b5be"/><rect x="631" y="839" width="2" height="6" fill="#b2b5be"/><rect x="815" y="839" width="2" height="6" fill="#b2b5be"/><rect x="998.5" y="839" width="2" height="6" fill="#b2b5be"/><rect x="1182" y="839" width="2" height="6" fill="#b2b5be"/><rect x="1366" y="839" width="2" height="6" fill="#b2b5be"/>
<text transform="translate(42.17,872.8) scale(0.9480,1)" class="ax" >7:00 PM</text><text transform="translate(219.99,872.8) scale(0.9496,1)" class="ax" >10:00 PM</text><text transform="translate(408.85,872.8) scale(0.9760,1)" class="ax" >1:00 AM</text><text transform="translate(593.55,872.8) scale(0.9609,1)" class="ax" >4:00 AM</text><text transform="translate(804.45,872.8) scale(0.9543,1)" class="ax b" >11</text><text transform="translate(954.37,872.8) scale(0.9646,1)" class="ax" >10:00 AM</text><text transform="translate(1143.90,872.8) scale(0.9483,1)" class="ax" >1:00 PM</text><text transform="translate(1328.81,872.8) scale(0.9401,1)" class="ax" >4:00 PM</text>
</svg>
</body></html>
